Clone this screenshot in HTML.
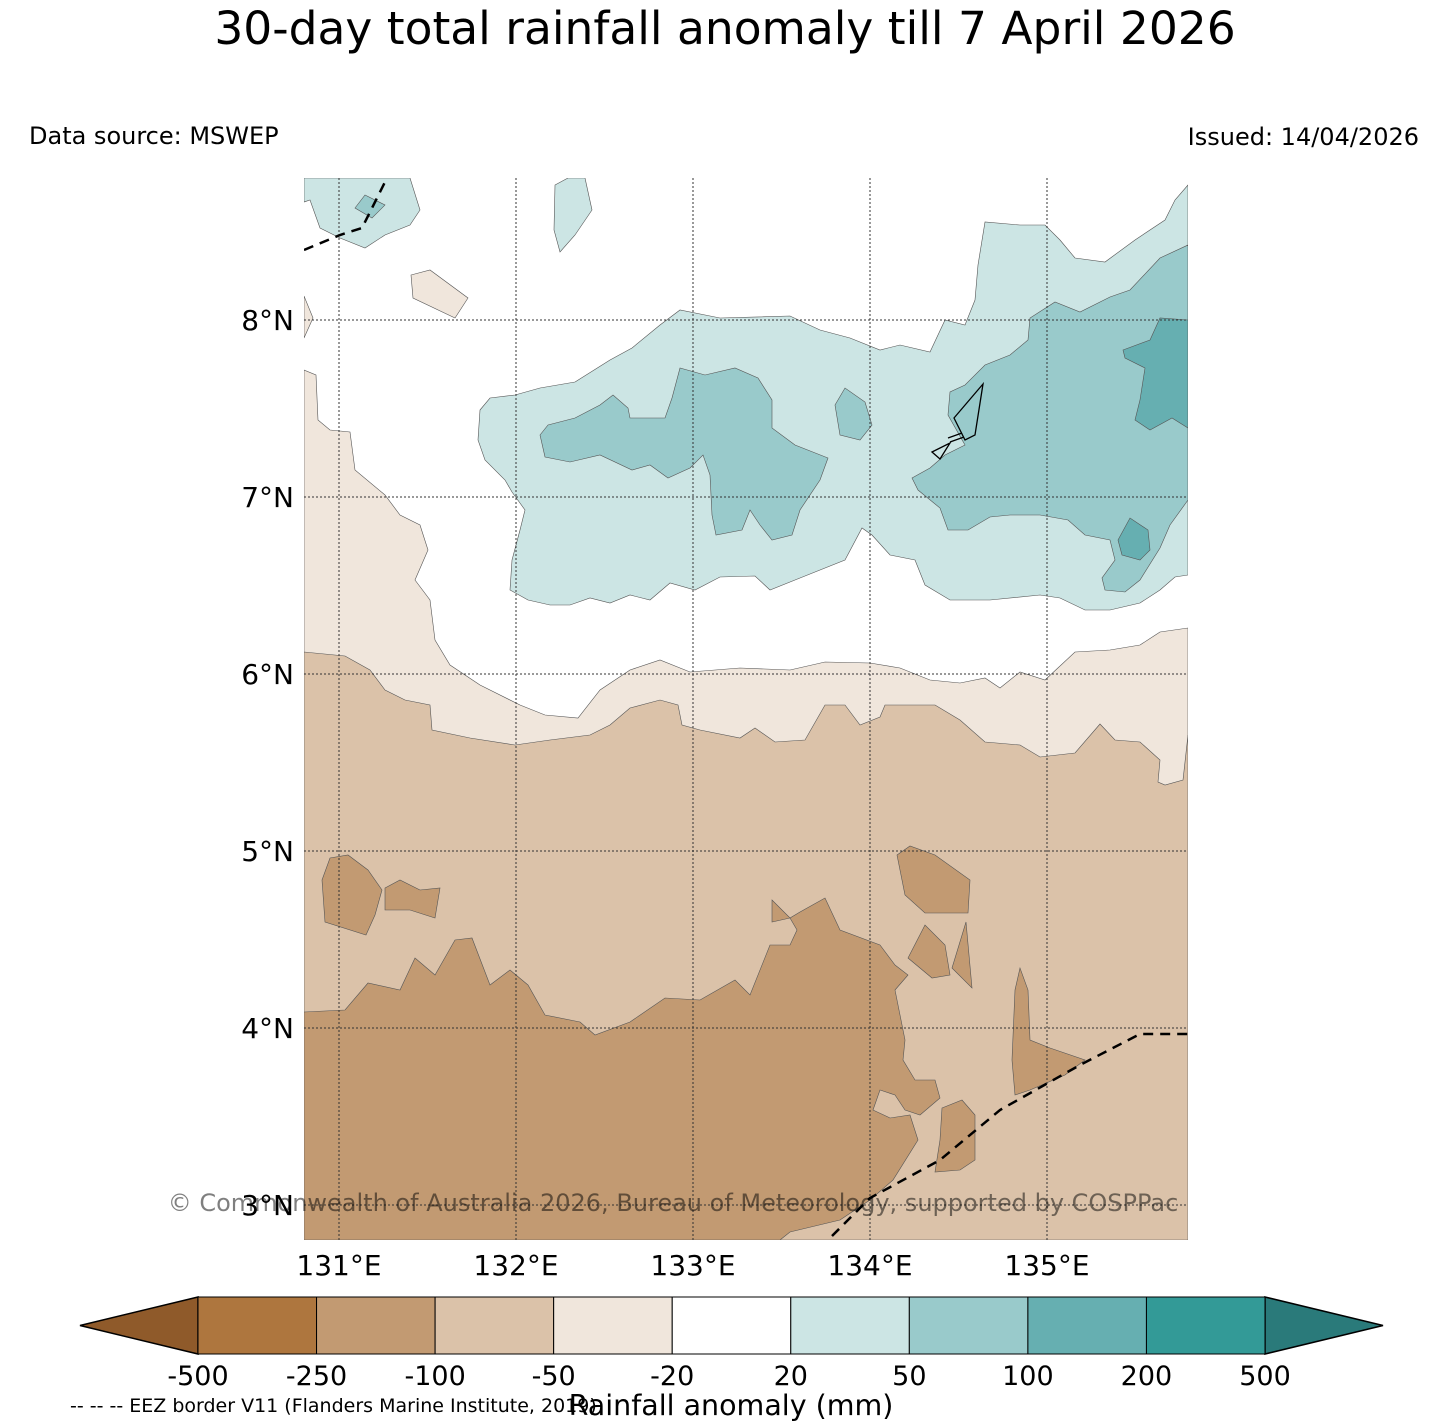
<!DOCTYPE html>
<html><head><meta charset="utf-8"><style>
body{margin:0;background:#fff;}
svg{display:block;font-family:"DejaVu Sans","Liberation Sans",sans-serif;}
</style></head><body>
<svg width="1449" height="1426" viewBox="0 0 1449 1426">
<text x="725" y="44" font-size="45.5" text-anchor="middle">30-day total rainfall anomaly till 7 April 2026</text>
<text x="29" y="144" font-size="24">Data source: MSWEP</text>
<text x="1419" y="145" font-size="24" text-anchor="end">Issued: 14/04/2026</text>
<defs><clipPath id="mc"><rect x="304" y="178" width="884" height="1062"/></clipPath></defs>
<g clip-path="url(#mc)" stroke="#555" stroke-width="0.6">
<rect x="304" y="178" width="884" height="1062" fill="#fff" stroke="none"/>
<g fill="#f0e6dc">
<polygon points="304,370 316,375 318,420 330,430 350,432 355,470 385,495 400,515 420,525 428,550 415,580 430,600 435,640 450,665 480,685 520,705 545,715 578,718 600,690 630,670 660,660 690,672 740,668 790,670 825,662 870,663 900,668 930,680 960,683 985,678 1000,688 1020,672 1045,680 1075,652 1110,650 1140,645 1160,632 1188,628 1188,1240 304,1240"/>
<polygon points="304,296 313,318 304,338"/>
<polygon points="411,275 430,270 468,298 455,318 413,298"/>
</g>
<g fill="#dbc2a9">
<polygon points="304,652 345,656 370,670 385,690 405,700 430,705 432,730 470,738 515,745 550,740 590,735 610,725 630,708 660,700 678,705 682,725 700,730 740,738 755,728 775,742 805,740 825,705 845,705 860,725 880,717 885,705 935,705 960,720 985,742 1020,745 1040,757 1075,753 1100,724 1115,740 1140,742 1160,760 1158,782 1165,785 1183,780 1188,735 1188,1240 304,1240"/>
</g>
<g fill="#c29a72">
<polygon points="304,1012 345,1010 368,983 400,990 415,958 435,975 455,940 472,938 490,985 510,970 528,985 545,1015 580,1022 595,1035 630,1022 665,998 700,1000 735,980 750,995 770,945 790,945 797,930 790,918 800,912 825,898 840,930 880,945 895,965 908,975 895,990 905,1040 903,1060 915,1080 935,1080 940,1098 920,1115 905,1110 895,1095 880,1090 873,1110 890,1118 910,1115 918,1140 893,1180 870,1200 840,1220 790,1232 780,1240 304,1240"/>
<polygon points="772,900 790,918 772,922"/>
<polygon points="322,880 330,858 348,855 368,870 382,890 375,915 366,935 325,922"/>
<polygon points="385,888 400,880 420,890 440,888 435,918 410,910 385,910"/>
<polygon points="897,855 910,846 935,855 970,880 968,913 925,913 905,895"/>
<polygon points="908,958 925,925 945,945 950,975 932,978"/>
<polygon points="952,968 966,922 972,988"/>
<polygon points="1015,990 1020,968 1028,990 1030,1040 1050,1048 1085,1060 1065,1075 1030,1090 1015,1095 1012,1060"/>
<polygon points="942,1108 962,1100 975,1115 975,1160 960,1170 935,1172 940,1140"/>
</g>
<g fill="#cce5e4">
<polygon points="480,410 490,398 515,395 540,388 575,382 610,360 632,348 660,325 680,310 720,318 790,316 820,330 850,338 880,350 900,345 930,352 945,320 965,325 975,300 978,265 985,222 1020,225 1045,225 1060,240 1075,258 1105,262 1135,240 1165,220 1175,200 1188,185 1188,575 1175,577 1160,590 1140,603 1110,610 1085,610 1060,598 1040,595 990,600 950,600 925,585 915,560 890,555 872,535 862,528 845,560 800,578 770,590 755,576 720,577 695,590 670,583 650,600 630,595 610,603 590,598 570,605 550,605 528,600 510,590 512,560 520,530 525,510 512,492 505,480 485,460 478,440"/>
<polygon points="304,178 410,178 420,210 410,225 385,235 365,248 340,238 320,228 310,200 304,202"/>
<polygon points="555,185 568,178 585,178 592,210 575,235 560,252 554,230"/>
</g>
<g fill="#99cacb">
<polygon points="540,435 548,425 575,418 600,405 613,395 628,408 630,418 665,418 672,398 680,368 705,375 735,368 758,378 772,400 772,428 795,445 828,458 820,480 800,510 792,535 772,540 760,525 750,510 742,530 716,535 712,515 710,475 703,455 690,468 668,478 650,465 632,470 600,455 570,462 545,457"/>
<polygon points="835,405 845,388 865,402 872,425 860,440 840,435"/>
<polygon points="912,478 930,468 945,455 965,445 948,415 950,392 965,385 985,365 1010,355 1028,340 1030,318 1055,302 1080,312 1110,297 1130,290 1160,258 1188,245 1188,500 1170,525 1160,548 1140,580 1125,592 1105,590 1102,578 1115,560 1110,540 1085,535 1068,520 1040,515 1010,515 990,517 968,530 948,530 940,508 918,490"/>
<polygon points="355,208 365,195 385,205 372,218"/>
</g>
<g fill="#66afb1">
<polygon points="1123,350 1150,340 1160,318 1188,320 1188,428 1172,418 1150,430 1135,420 1140,400 1145,368 1125,358"/>
<polygon points="1118,540 1130,518 1148,530 1150,550 1140,560 1122,555"/>
</g>
<g fill="none" stroke="#000" stroke-width="1.3">
<polygon points="954,418 983,384 975,435 965,440"/>
<polygon points="932,452 950,443 940,459"/>
<line x1="948" y1="438" x2="962" y2="433"/><line x1="950" y1="442" x2="964" y2="437"/>
</g>
<g stroke="#333" stroke-width="1" stroke-dasharray="2,2" fill="none">
<line x1="339" y1="178" x2="339" y2="1240"/><line x1="516" y1="178" x2="516" y2="1240"/><line x1="693" y1="178" x2="693" y2="1240"/><line x1="870" y1="178" x2="870" y2="1240"/><line x1="1047" y1="178" x2="1047" y2="1240"/>
<line x1="304" y1="320" x2="1188" y2="320"/><line x1="304" y1="497" x2="1188" y2="497"/><line x1="304" y1="674" x2="1188" y2="674"/><line x1="304" y1="851" x2="1188" y2="851"/><line x1="304" y1="1028" x2="1188" y2="1028"/><line x1="304" y1="1205" x2="1188" y2="1205"/>
</g>
<g stroke="#000" stroke-width="2.5" stroke-dasharray="10,7" fill="none">
<polyline points="304,250 340,235 362,228 385,182"/>
<polyline points="832,1236 870,1198 940,1160 1000,1110 1080,1065 1140,1034 1188,1034"/>
</g>
</g>
<g font-size="28">
<text x="294" y="330" text-anchor="end">8°N</text><text x="294" y="507" text-anchor="end">7°N</text><text x="294" y="684" text-anchor="end">6°N</text><text x="294" y="861" text-anchor="end">5°N</text><text x="294" y="1038" text-anchor="end">4°N</text><text x="294" y="1215" text-anchor="end">3°N</text>
</g>
<g font-size="28" text-anchor="middle">
<text x="339" y="1275">131°E</text><text x="516" y="1275">132°E</text><text x="693" y="1275">133°E</text><text x="870" y="1275">134°E</text><text x="1047" y="1275">135°E</text>
</g>
<text x="673" y="1211" font-size="24" fill="#000" fill-opacity="0.5" text-anchor="middle">© Commonwealth of Australia 2026, Bureau of Meteorology, supported by COSPPac</text>
<g id="cbar"></g>
<text x="731" y="1415" font-size="28.5" text-anchor="middle">Rainfall anomaly (mm)</text>
<text x="70" y="1412" font-size="19">-- -- -- EEZ border V11 (Flanders Marine Institute, 2019)</text>
</svg>
<script>
const bounds = [-500,-250,-100,-50,-20,20,50,100,200,500];
const tickLabels = ["-500","-250","-100","-50","-20","20","50","100","200","500"];
const colors = ["#ae763e","#c29a72","#dbc2a9","#f0e6dc","#ffffff","#cce5e4","#99cacb","#66afb1","#339a97"];
const ns="http://www.w3.org/2000/svg";
const g=document.getElementById('cbar');
const x0=198,x1=1265,y0=1297,y1=1354;
const w=(x1-x0)/(bounds.length-1);
function xi(i){return x0+i*w;}
function mk(t,a){const e=document.createElementNS(ns,t);for(const k in a)e.setAttribute(k,a[k]);g.appendChild(e);return e;}
let lt=mk('polygon',{points:`${x0},${y0} 80,${(y0+y1)/2} ${x0},${y1}`,fill:'#8f5a2a',stroke:'#000','stroke-width':1.5});


let rt=mk('polygon',{points:`${x1},${y0} 1383,${(y0+y1)/2} ${x1},${y1}`,fill:'#2a7a7a',stroke:'#000','stroke-width':1.5});


colors.forEach((c,i)=>{
 const r=mk('rect',{x:xi(i),y:y0,width:w,height:y1-y0,fill:c,stroke:'#000','stroke-width':1});
 
 
});
tickLabels.forEach((l,i)=>{
 const t=mk('text',{x:xi(i),y:1385,'font-size':27,'text-anchor':'middle'});
 t.textContent=l;
 
 
});
</script>
</body></html>
